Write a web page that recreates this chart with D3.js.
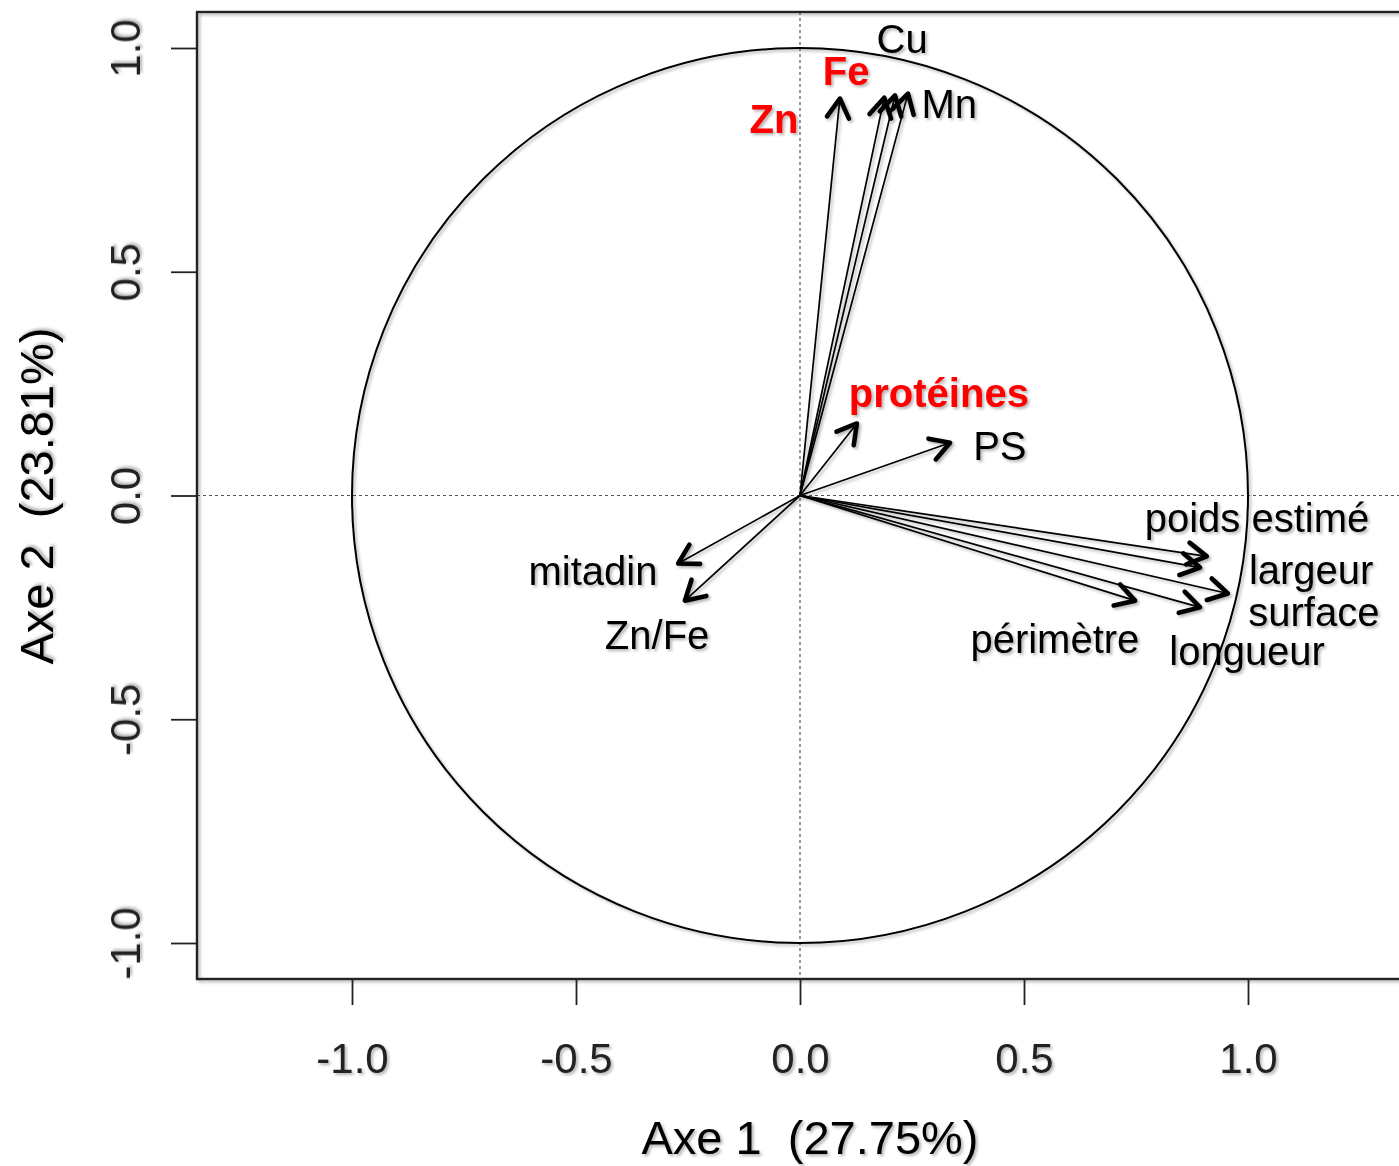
<!DOCTYPE html>
<html>
<head>
<meta charset="utf-8">
<script src="https://cdn.jsdelivr.net/npm/d3@7"></script>
<style>
  body { margin: 0; background: #fff; }
  svg text { font-family: "Liberation Sans", Arial, sans-serif; }
</style>
</head>
<body>
<svg id="chart" width="1399" height="1166"></svg>
<script>
// variables of the correlation circle (coordinates on axes 1 and 2)
const variables = ['Zn', 'Fe', 'Cu', 'Mn', 'protéines', 'PS', 'poids estimé', 'largeur', 'surface', 'longueur', 'périmètre', 'mitadin', 'Zn/Fe'];
const axis1 = [0.089, 0.188, 0.212, 0.241, 0.127, 0.335, 0.908, 0.893, 0.955, 0.893, 0.748, -0.272, -0.257];
const axis2 = [0.887, 0.889, 0.894, 0.898, 0.161, 0.118, -0.136, -0.161, -0.219, -0.250, -0.235, -0.152, -0.235];
// where each label sits (in axis units)
const labelX = [-0.058, 0.103, 0.228, 0.333, 0.310, 0.446, 1.020, 1.141, 1.147, 0.998, 0.569, -0.462, -0.319];
const labelY = [0.842, 0.950, 1.021, 0.876, 0.230, 0.112, -0.049, -0.166, -0.260, -0.346, -0.320, -0.168, -0.311];
const highlighted = ['Zn', 'Fe', 'protéines'];

const tickValues = [-1, -0.5, 0, 0.5, 1];
const xTitle = 'Axe 1  (27.75%)';
const yTitle = 'Axe 2  (23.81%)';

const svg = d3.select('#chart');

const x = d3.scaleLinear().domain([-1, 1]).range([352, 1248]);
const y = d3.scaleLinear().domain([-1, 1]).range([943, 48]);

const BOX = { left: 197, top: 12, bottom: 979, right: 1430 };

// soft shadow like the original export
const defs = svg.append('defs');
defs.append('filter').attr('id', 'shadow')
  .attr('x', '-20%').attr('y', '-20%').attr('width', '140%').attr('height', '140%')
  .append('feDropShadow')
  .attr('dx', 2).attr('dy', 2).attr('stdDeviation', 1.5)
  .attr('flood-color', '#000').attr('flood-opacity', 0.3);

// reference lines
svg.append('line')
  .attr('x1', x(0)).attr('x2', x(0)).attr('y1', BOX.top).attr('y2', BOX.bottom)
  .attr('stroke', '#555').attr('stroke-width', 1.2).attr('stroke-dasharray', '3,3');
svg.append('line')
  .attr('x1', BOX.left).attr('x2', BOX.right).attr('y1', y(0)).attr('y2', y(0))
  .attr('stroke', '#555').attr('stroke-width', 1.2).attr('stroke-dasharray', '3,3');

// correlation circle
svg.append('ellipse')
  .attr('cx', x(0)).attr('cy', y(0))
  .attr('rx', x(1) - x(0)).attr('ry', y(0) - y(1))
  .attr('fill', 'none').attr('stroke', '#000').attr('stroke-width', 2)
  .attr('filter', 'url(#shadow)');

// frame
svg.append('rect')
  .attr('x', BOX.left).attr('y', BOX.top)
  .attr('width', BOX.right - BOX.left).attr('height', BOX.bottom - BOX.top)
  .attr('fill', 'none').attr('stroke', '#222').attr('stroke-width', 2.4)
  .attr('filter', 'url(#shadow)');

// axes (plain hyphen for negatives, as in R)
const fmt = v => d3.format('.1f')(v).replace('\u2212', '-');

const xAxis = svg.append('g')
  .attr('transform', `translate(0,${BOX.bottom})`)
  .call(d3.axisBottom(x).tickValues(tickValues).tickFormat(fmt).tickSize(26).tickPadding(38));
xAxis.select('.domain').remove();
xAxis.selectAll('line').attr('stroke', '#222').attr('stroke-width', 1.8);
xAxis.selectAll('text')
  .attr('font-size', 42).attr('fill', '#222')
  .attr('font-family', '"Liberation Sans", Arial, sans-serif')
  .attr('filter', 'url(#shadow)');

const yAxis = svg.append('g')
  .attr('transform', `translate(${BOX.left},0)`)
  .call(d3.axisLeft(y).tickValues(tickValues).tickFormat(fmt).tickSize(26));
yAxis.select('.domain').remove();
yAxis.selectAll('line').attr('stroke', '#222').attr('stroke-width', 1.8);
yAxis.selectAll('text')
  .attr('transform', 'rotate(-90)')
  .attr('x', 0).attr('y', -57).attr('dy', 0)
  .attr('text-anchor', 'middle')
  .attr('font-size', 42).attr('fill', '#222')
  .attr('font-family', '"Liberation Sans", Arial, sans-serif')
  .attr('filter', 'url(#shadow)');

// axis titles
svg.append('text')
  .attr('x', 810).attr('y', 1154)
  .attr('text-anchor', 'middle')
  .attr('font-size', 47)
  .style('white-space', 'pre')
  .attr('filter', 'url(#shadow)')
  .text(xTitle);

svg.append('text')
  .attr('transform', 'translate(53,496) rotate(-90)')
  .attr('text-anchor', 'middle')
  .attr('font-size', 47)
  .style('white-space', 'pre')
  .attr('filter', 'url(#shadow)')
  .text(yTitle);

// arrows
const data = variables.map((name, i) => ({
  name, px: axis1[i], py: axis2[i], lx: labelX[i], ly: labelY[i]
}));

const HEAD = 22;
const SPREAD = Math.PI / 6;

const arrows = svg.append('g').attr('filter', 'url(#shadow)');

arrows.selectAll('line.shaft')
  .data(data)
  .join('line')
  .attr('class', 'shaft')
  .attr('x1', x(0)).attr('y1', y(0))
  .attr('x2', d => x(d.px)).attr('y2', d => y(d.py))
  .attr('stroke', '#000').attr('stroke-width', 1.7);

arrows.selectAll('path.head')
  .data(data)
  .join('path')
  .attr('class', 'head')
  .attr('d', d => {
    let tx = x(d.px), ty = y(d.py);
    let a = Math.atan2(ty - y(0), tx - x(0));
    let p1 = [tx - HEAD * Math.cos(a - SPREAD), ty - HEAD * Math.sin(a - SPREAD)];
    let p2 = [tx - HEAD * Math.cos(a + SPREAD), ty - HEAD * Math.sin(a + SPREAD)];
    return `M${p1[0]},${p1[1]}L${tx},${ty}L${p2[0]},${p2[1]}`;
  })
  .attr('fill', 'none').attr('stroke', '#000')
  .attr('stroke-width', 4.6).attr('stroke-linecap', 'round').attr('stroke-linejoin', 'round');

// labels
svg.append('g').attr('filter', 'url(#shadow)')
  .selectAll('text')
  .data(data)
  .join('text')
  .attr('x', d => x(d.lx)).attr('y', d => y(d.ly))
  .attr('dy', '0.36em')
  .attr('text-anchor', 'middle')
  .attr('font-size', 40)
  .attr('font-weight', d => highlighted.includes(d.name) ? 'bold' : 'normal')
  .attr('fill', d => highlighted.includes(d.name) ? '#f00' : '#000')
  .text(d => d.name);
</script>
</body>
</html>
